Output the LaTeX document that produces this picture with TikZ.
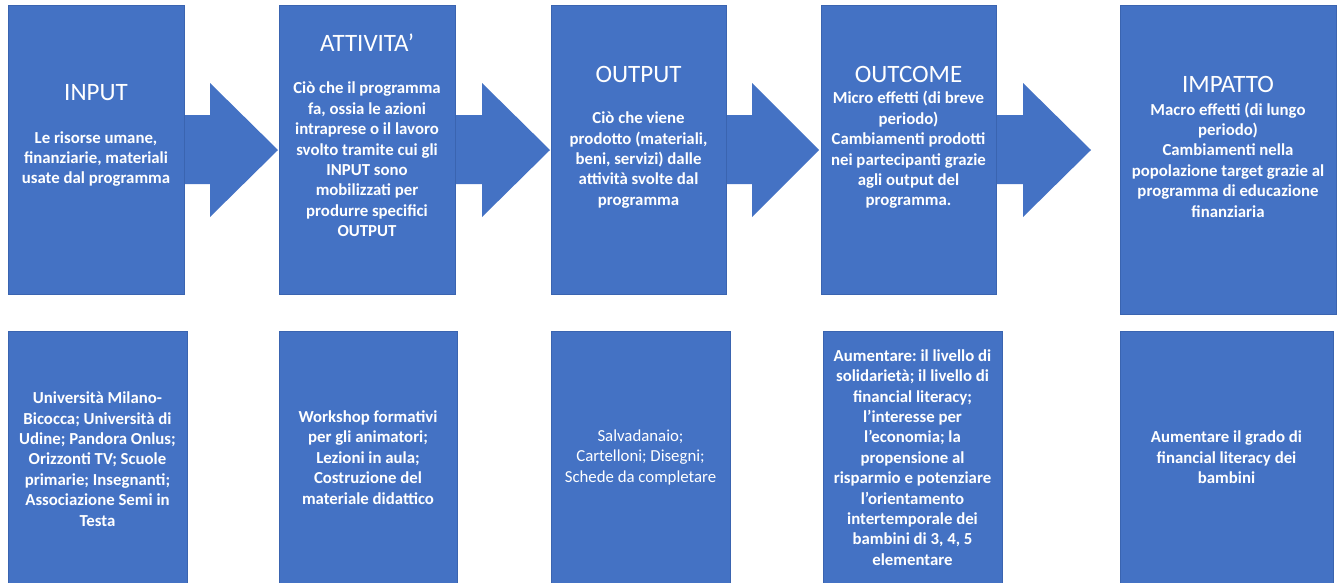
\documentclass[tikz,border=0pt]{standalone}
\usepackage{fontspec}
\setmainfont{Carlito}
\usetikzlibrary{calc}
\definecolor{boxblue}{HTML}{4472C4}
\definecolor{boxedge}{HTML}{3A64B0}
\frenchspacing
\tikzset{
  blk/.style={fill=boxblue, draw=boxedge, line width=0.8pt},
  ttl/.style={text=white, font=\fontsize{25}{30}\selectfont, inner sep=0pt},
  bodytxt/.style={text=white, align=center, inner sep=0pt, font=\fontsize{16.8}{20.4}\selectfont\bfseries},
  bodyreg/.style={text=white, align=center, inner sep=0pt, font=\fontsize{16.8}{20.4}\selectfont},
}
\begin{document}
\begin{tikzpicture}[x=1pt,y=-1pt]
\useasboundingbox (0,0) rectangle (1341,582);
\clip (0,0) rectangle (1341,582);
% top boxes as coordinates for corners
\coordinate (inTL) at (8,5);     \coordinate (inBR) at (184,294);
\coordinate (atTL) at (279,5);   \coordinate (atBR) at (455,294);
\coordinate (ouTL) at (551,5);   \coordinate (ouBR) at (726,294);
\coordinate (ocTL) at (821,5);   \coordinate (ocBR) at (996,294);
\coordinate (imTL) at (1120,5);  \coordinate (imBR) at (1336,314);
% arrows
\foreach \s/\b/\t in {182/210/278, 453/482/550, 724/752/819, 994/1023/1091}{
  \fill[boxblue] (\s,115) -- (\b,115) -- (\b,83) -- (\t,150) -- (\b,217) -- (\b,184) -- (\s,184) -- cycle;
}
% top boxes
\draw[blk] (inTL) rectangle (inBR);
\draw[blk] (atTL) rectangle (atBR);
\draw[blk] (ouTL) rectangle (ouBR);
\draw[blk] (ocTL) rectangle (ocBR);
\draw[blk] (imTL) rectangle (imBR);
% bottom boxes
\draw[blk] (8,331) rectangle (187,600);
\draw[blk] (279,331) rectangle (457,600);
\draw[blk] (551,331) rectangle (730,600);
\draw[blk] (823,331) rectangle (1002,600);
\draw[blk] (1120,331) rectangle (1333,600);
% titles
\node[ttl] (tin) at (96,93) {INPUT};
\node[ttl] (tat) at (367,43) {ATTIVITA’};
\node[ttl] (tou) at (638.5,74) {OUTPUT};
\node[ttl] (toc) at (908.5,74) {OUTCOME};
\node[ttl] (tim) at (1228,84) {IMPATTO};
% top bodies
\node[bodytxt] (bin) at (96,159) {Le risorse umane,\\finanziarie, materiali\\usate dal programma};
\node[bodytxt] (bat) at (367,159.5) {Ciò che il programma\\fa, ossia le azioni\\intraprese o il lavoro\\svolto tramite cui gli\\INPUT sono\\mobilizzati per\\produrre specifici\\OUTPUT};
\node[bodytxt] (bou) at (638.5,160) {Ciò che viene\\prodotto (materiali,\\beni, servizi) dalle\\attività svolte dal\\programma};
\node[bodytxt] (boc) at (908.5,150) {Micro effetti (di breve\\periodo)\\Cambiamenti prodotti\\nei partecipanti grazie\\agli output del\\programma.};
\node[bodytxt] (bim) at (1228,160) {Macro effetti (di lungo\\periodo)\\Cambiamenti nella\\popolazione target grazie al\\programma di educazione\\finanziaria};
% bottom bodies
\node[bodytxt] (b1) at (97.5,459) {Università Milano-\\Bicocca; Università di\\Udine; Pandora Onlus;\\Orizzonti TV; Scuole\\primarie; Insegnanti;\\Associazione Semi in\\Testa};
\node[bodytxt] (b2) at (368,457.5) {Workshop formativi\\per gli animatori;\\Lezioni in aula;\\Costruzione del\\materiale didattico};
\node[bodyreg] (b3) at (640.5,457.5) {Salvadanaio;\\Cartelloni; Disegni;\\Schede da completare};
\node[bodytxt] (b4) at (912.5,457.5) {Aumentare: il livello di\\solidarietà; il livello di\\financial literacy;\\l’interesse per\\l’economia; la\\propensione al\\risparmio e potenziare\\l’orientamento\\intertemporale dei\\bambini di 3, 4, 5\\elementare};
\node[bodytxt] (b5) at (1226.5,457.5) {Aumentare il grado di\\financial literacy dei\\bambini};
\end{tikzpicture}
\end{document}
